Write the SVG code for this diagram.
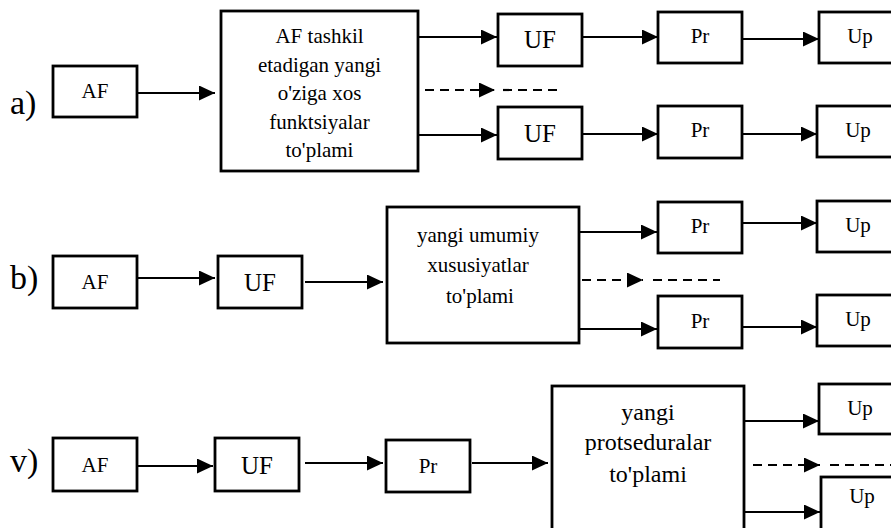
<svg xmlns="http://www.w3.org/2000/svg" width="891" height="528" viewBox="0 0 891 528">
  <style>
    .box { fill: #fff; stroke: #000; stroke-width: 2.8; }
    .ln { stroke: #000; stroke-width: 2.2; fill: none; }
    .dash { stroke: #000; stroke-width: 2.2; fill: none; stroke-dasharray: 9 6; }
  </style>
  <defs>
    <marker id="arr" markerUnits="userSpaceOnUse" viewBox="0 0 16 15" markerWidth="16" markerHeight="15" refX="16" refY="7.5" orient="auto">
      <path d="M0,0 L16,7.5 L0,15 z" fill="#000"/>
    </marker>
  </defs>
  <rect width="891" height="528" fill="#fff"/>

  <!-- row labels -->
  <g font-size="34" fill="#000" font-family="Liberation Serif, Times New Roman, serif">
    <text x="10" y="114">a)</text>
    <text x="10" y="289">b)</text>
    <text x="10" y="472">v)</text>
  </g>

  <!-- connectors -->
  <g id="connectors">
    <!-- a -->
    <line class="ln" x1="137" y1="93" x2="215" y2="93" marker-end="url(#arr)"/>
    <line class="ln" x1="418" y1="37" x2="497" y2="37" marker-end="url(#arr)"/>
    <line class="ln" x1="582" y1="37" x2="658" y2="37" marker-end="url(#arr)"/>
    <line class="ln" x1="742" y1="39" x2="819" y2="39" marker-end="url(#arr)"/>
    <line class="dash" x1="425" y1="90" x2="495" y2="90" marker-end="url(#arr)"/>
    <line class="dash" x1="503" y1="90" x2="563" y2="90"/>
    <line class="ln" x1="418" y1="135" x2="497" y2="135" marker-end="url(#arr)"/>
    <line class="ln" x1="582" y1="134" x2="658" y2="134" marker-end="url(#arr)"/>
    <line class="ln" x1="742" y1="134" x2="817" y2="134" marker-end="url(#arr)"/>
    <!-- b -->
    <line class="ln" x1="137" y1="278" x2="215" y2="278" marker-end="url(#arr)"/>
    <line class="ln" x1="305" y1="282" x2="383" y2="282" marker-end="url(#arr)"/>
    <line class="ln" x1="579" y1="232" x2="657" y2="232" marker-end="url(#arr)"/>
    <line class="ln" x1="742" y1="223" x2="817" y2="223" marker-end="url(#arr)"/>
    <line class="dash" x1="582" y1="280" x2="643" y2="280" marker-end="url(#arr)"/>
    <line class="dash" x1="653" y1="280" x2="720" y2="280"/>
    <line class="ln" x1="579" y1="329" x2="657" y2="329" marker-end="url(#arr)"/>
    <line class="ln" x1="742" y1="327" x2="817" y2="327" marker-end="url(#arr)"/>
    <!-- v -->
    <line class="ln" x1="137" y1="466" x2="213" y2="466" marker-end="url(#arr)"/>
    <line class="ln" x1="305" y1="463" x2="383" y2="463" marker-end="url(#arr)"/>
    <line class="ln" x1="472" y1="463" x2="548" y2="463" marker-end="url(#arr)"/>
    <line class="ln" x1="744" y1="421" x2="819" y2="421" marker-end="url(#arr)"/>
    <line class="dash" x1="753" y1="465" x2="820" y2="465" marker-end="url(#arr)"/>
    <line class="dash" x1="830" y1="465" x2="895" y2="465"/>
    <line class="ln" x1="744" y1="512" x2="820" y2="512" marker-end="url(#arr)"/>
  </g>

  <g font-family="Liberation Serif, Times New Roman, serif" text-anchor="middle" fill="#000" font-size="21">
  <!-- row a -->
  <g id="a-af"><rect class="box" x="53" y="66" width="84" height="51"/><text x="95" y="98">AF</text></g>
  <g id="a-set">
    <rect class="box" x="221" y="11" width="197" height="160"/>
    <text x="319.5" y="43">AF tashkil</text>
    <text x="319.5" y="71.5">etadigan yangi</text>
    <text x="319.5" y="100">o'ziga xos</text>
    <text x="319.5" y="128.5">funktsiyalar</text>
    <text x="319.5" y="157">to'plami</text>
  </g>
  <g id="a-uf1"><rect class="box" x="498" y="14" width="84" height="52"/><text x="540" y="48" font-size="25">UF</text></g>
  <g id="a-pr1"><rect class="box" x="658" y="12" width="84" height="51"/><text x="700" y="43">Pr</text></g>
  <g id="a-up1"><rect class="box" x="819" y="12" width="100" height="51"/><text x="860" y="43">Up</text></g>
  <g id="a-uf2"><rect class="box" x="498" y="107" width="84" height="52"/><text x="540" y="142" font-size="25">UF</text></g>
  <g id="a-pr2"><rect class="box" x="658" y="106" width="84" height="52"/><text x="700" y="137">Pr</text></g>
  <g id="a-up2"><rect class="box" x="817" y="106" width="100" height="51"/><text x="858" y="137">Up</text></g>

  <!-- row b -->
  <g id="b-af"><rect class="box" x="53" y="256" width="84" height="52"/><text x="95" y="289">AF</text></g>
  <g id="b-uf"><rect class="box" x="218" y="256" width="84" height="52"/><text x="260" y="291" font-size="25">UF</text></g>
  <g id="b-set">
    <rect class="box" x="387" y="207" width="192" height="136"/>
    <text x="478" y="242">yangi umumiy</text>
    <text x="478" y="272">xususiyatlar</text>
    <text x="480" y="303">to'plami</text>
  </g>
  <g id="b-pr1"><rect class="box" x="658" y="202" width="84" height="51"/><text x="700" y="233">Pr</text></g>
  <g id="b-up1"><rect class="box" x="817" y="201" width="100" height="51"/><text x="858" y="232">Up</text></g>
  <g id="b-pr2"><rect class="box" x="658" y="296" width="84" height="52"/><text x="700" y="328">Pr</text></g>
  <g id="b-up2"><rect class="box" x="817" y="295" width="100" height="51"/><text x="858" y="326">Up</text></g>

  <!-- row v -->
  <g id="v-af"><rect class="box" x="53" y="438" width="84" height="53"/><text x="95" y="472">AF</text></g>
  <g id="v-uf"><rect class="box" x="215" y="438" width="84" height="53"/><text x="257" y="474" font-size="25">UF</text></g>
  <g id="v-pr"><rect class="box" x="386" y="440" width="84" height="52"/><text x="428" y="473">Pr</text></g>
  <g id="v-set" font-size="24">
    <rect class="box" x="552" y="386" width="192" height="160"/>
    <text x="648" y="420">yangi</text>
    <text x="648" y="450">protseduralar</text>
    <text x="648" y="482">to'plami</text>
  </g>
  <g id="v-up1"><rect class="box" x="819" y="384" width="100" height="50"/><text x="860" y="415">Up</text></g>
  <g id="v-up2"><rect class="box" x="821" y="477" width="100" height="70"/><text x="862" y="503">Up</text></g>
  </g>
</svg>
